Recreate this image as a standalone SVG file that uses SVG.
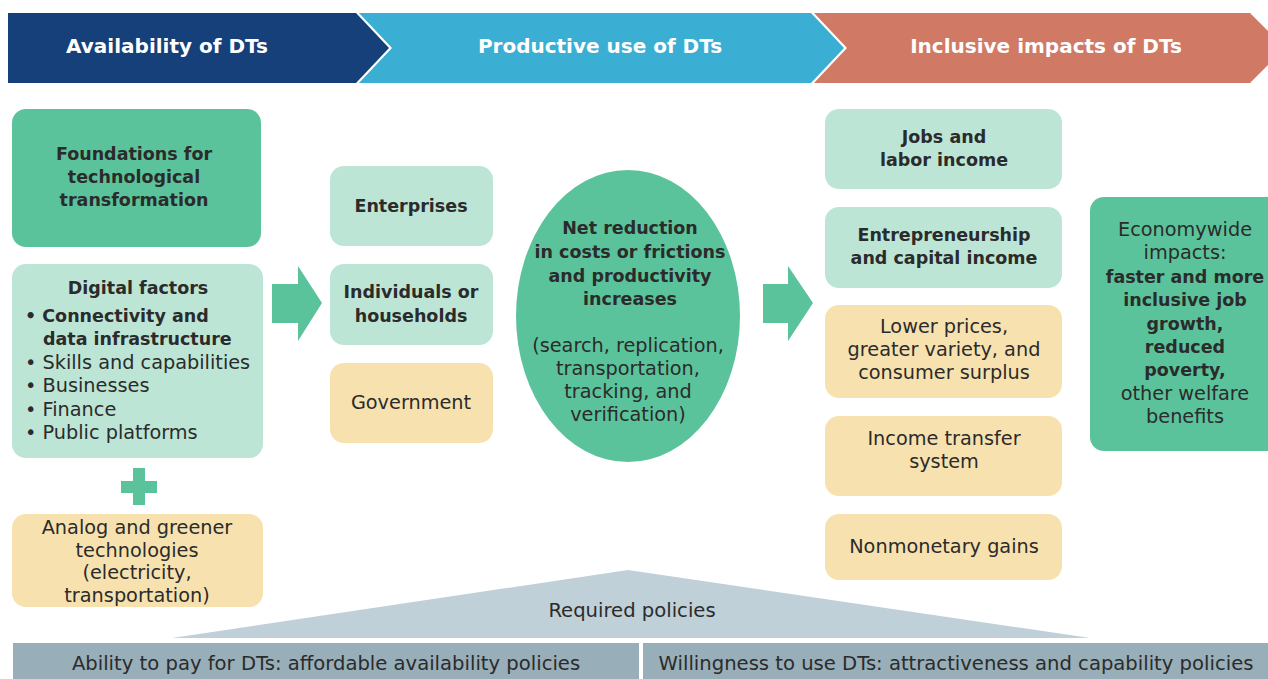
<svg xmlns="http://www.w3.org/2000/svg" width="1268" height="679" viewBox="0 0 1268 679">
<style>
text{font-family:"DejaVu Sans","Liberation Sans",sans-serif;fill:#2b2b2b;text-anchor:middle}
.h{fill:#fff;font-size:20px;font-weight:bold}
.b{font-size:17.5px;font-weight:bold}
.r{font-size:19.3px}
.s{font-size:19.3px}
.p{font-size:19.6px}
.mg{fill:#5bc39b}
.lg{fill:#bde5d5}
.yl{fill:#f7e2af}
.l{text-anchor:start}
</style>
<rect width="1268" height="679" fill="#fff"/>
<g id="header">
<polygon points="8,13 356,13 389,48 356,83 8,83" fill="#15407a"/>
<polygon points="359,13 811,13 844,48 811,83 359,83 392,48" fill="#3baed3"/>
<polygon points="814,13 1250,13 1285,48 1250,83 814,83 847,48" fill="#d07a65"/>
<text class="h" x="167" y="53">Availability of DTs</text>
<text class="h" x="600" y="53">Productive use of DTs</text>
<text class="h" x="1046" y="53">Inclusive impacts of DTs</text>
</g>
<g id="foundations">
<rect class="mg" x="12" y="109" width="249" height="138" rx="14"/>
<text class="b"><tspan x="134" y="160">Foundations for</tspan><tspan x="134" y="183">technological</tspan><tspan x="134" y="206">transformation</tspan></text>
</g>
<g id="digital-factors">
<rect class="lg" x="12" y="264" width="251" height="194" rx="14"/>
<text class="b" x="138" y="294">Digital factors</text>
<text class="b l"><tspan x="25" y="322">• Connectivity and</tspan><tspan x="43" y="345">data infrastructure</tspan></text>
<text class="r l"><tspan x="25" y="369">• Skills and capabilities</tspan><tspan x="25" y="392">• Businesses</tspan><tspan x="25" y="416">• Finance</tspan><tspan x="25" y="439">• Public platforms</tspan></text>
</g>
<g id="plus">
<rect class="mg" x="133" y="468" width="12" height="37"/>
<rect class="mg" x="121" y="481" width="36" height="12"/>
</g>
<g id="analog">
<rect class="yl" x="12" y="514" width="251" height="93" rx="14"/>
<text class="s"><tspan x="137" y="534">Analog and greener</tspan><tspan x="137" y="557">technologies</tspan><tspan x="137" y="579">(electricity,</tspan><tspan x="137" y="602">transportation)</tspan></text>
</g>
<g id="enterprises">
<rect class="lg" x="330" y="166" width="163" height="80" rx="14"/>
<text class="b" x="411" y="212">Enterprises</text>
</g>
<g id="individuals">
<rect class="lg" x="330" y="264" width="163" height="81" rx="14"/>
<text class="b"><tspan x="411" y="298">Individuals or</tspan><tspan x="411" y="322">households</tspan></text>
</g>
<g id="government">
<rect class="yl" x="330" y="363" width="163" height="80" rx="14"/>
<text class="r" x="411" y="409">Government</text>
</g>
<g id="net-reduction">
<ellipse class="mg" cx="628" cy="316" rx="112" ry="146"/>
<text class="b"><tspan x="630" y="234">Net reduction</tspan><tspan x="630" y="258">in costs or frictions</tspan><tspan x="630" y="282">and productivity</tspan><tspan x="630" y="305">increases</tspan></text>
<text class="s"><tspan x="628" y="352">(search, replication,</tspan><tspan x="628" y="375">transportation,</tspan><tspan x="628" y="398">tracking, and</tspan><tspan x="628" y="421">verification)</tspan></text>
</g>
<g id="jobs">
<rect class="lg" x="825" y="109" width="237" height="80" rx="14"/>
<text class="b"><tspan x="944" y="143">Jobs and</tspan><tspan x="944" y="166">labor income</tspan></text>
</g>
<g id="entrepreneurship">
<rect class="lg" x="825" y="207" width="237" height="81" rx="14"/>
<text class="b"><tspan x="944" y="241">Entrepreneurship</tspan><tspan x="944" y="264">and capital income</tspan></text>
</g>
<g id="lower-prices">
<rect class="yl" x="825" y="305" width="237" height="93" rx="14"/>
<text class="r"><tspan x="944" y="333">Lower prices,</tspan><tspan x="944" y="356">greater variety, and</tspan><tspan x="944" y="379">consumer surplus</tspan></text>
</g>
<g id="income-transfer">
<rect class="yl" x="825" y="416" width="237" height="80" rx="14"/>
<text class="r"><tspan x="944" y="445">Income transfer</tspan><tspan x="944" y="468">system</tspan></text>
</g>
<g id="nonmonetary">
<rect class="yl" x="825" y="514" width="237" height="66" rx="14"/>
<text class="r" x="944" y="553">Nonmonetary gains</text>
</g>
<g id="economywide">
<rect class="mg" x="1090" y="197" width="200" height="254" rx="14"/>
<text class="r"><tspan x="1185" y="236">Economywide</tspan><tspan x="1185" y="259">impacts:</tspan></text>
<text class="b"><tspan x="1185" y="283">faster and more</tspan><tspan x="1185" y="306">inclusive job</tspan><tspan x="1185" y="330">growth,</tspan><tspan x="1185" y="353">reduced</tspan><tspan x="1185" y="376">poverty,</tspan></text>
<text class="r"><tspan x="1185" y="400">other welfare</tspan><tspan x="1185" y="423">benefits</tspan></text>
</g>
<g id="connectors">
<polygon class="mg" points="272,284 298,284 298,266 322,303 298,341 298,323 272,323"/>
<polygon class="mg" points="763,284 788,284 788,266 813,303 788,341 788,323 763,323"/>
</g>
<g id="policies">
<polygon points="172,638 628,570 1090,638" fill="#bfd0d8"/>
<text class="p" x="632" y="617">Required policies</text>
<rect x="13" y="643" width="626" height="36" fill="#98aeb9"/>
<rect x="643" y="643" width="625" height="36" fill="#98aeb9"/>
<text class="p" x="326" y="670">Ability to pay for DTs: affordable availability policies</text>
<text class="p" x="956" y="670">Willingness to use DTs: attractiveness and capability policies</text>
</g>
</svg>
